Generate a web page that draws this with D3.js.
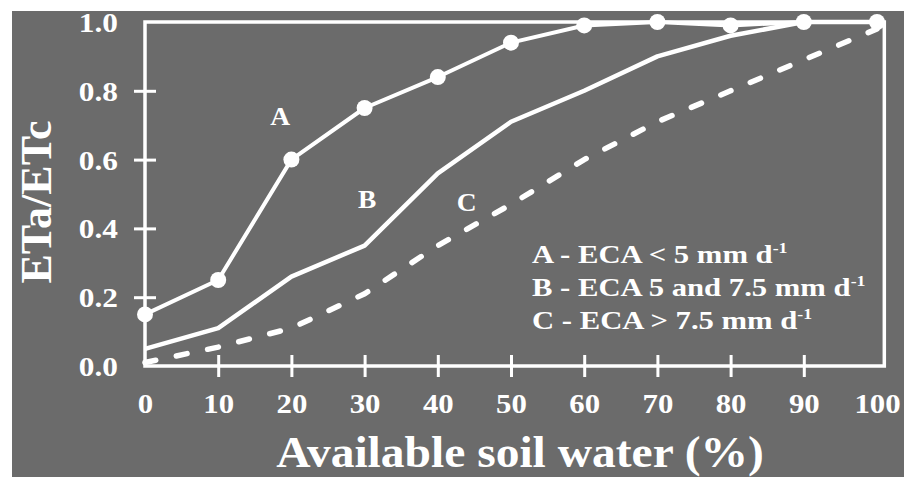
<!DOCTYPE html>
<html>
<head>
<meta charset="utf-8">
<script src="https://cdn.jsdelivr.net/npm/d3@7"></script>
<style>
  body { margin: 0; background: #fff; overflow: hidden; }
  svg { display: block; }
  svg text { font-family: "Liberation Serif", "Times New Roman", serif; font-weight: bold; fill: #fff; }
</style>
</head>
<body>
<svg id="chart"></svg>
<script>
const soilWater = [0, 10, 20, 30, 40, 50, 60, 70, 80, 90, 100];
const seriesA = [0.15, 0.25, 0.60, 0.75, 0.84, 0.94, 0.99, 1.00, 0.99, 1.00, 1.00];
const seriesB = [0.05, 0.11, 0.26, 0.35, 0.56, 0.71, 0.80, 0.90, 0.96, 1.00, 1.00];
const seriesC = [0.01, 0.055, 0.11, 0.21, 0.35, 0.47, 0.60, 0.71, 0.80, 0.89, 0.98];
const xTicks = [0, 10, 20, 30, 40, 50, 60, 70, 80, 90, 100];
const yTicks = [0.0, 0.2, 0.4, 0.6, 0.8, 1.0];
const legendLines = [
  {text: "A - ECA < 5 mm d", sup: "-1"},
  {text: "B - ECA 5 and 7.5 mm d", sup: "-1"},
  {text: "C - ECA > 7.5 mm d", sup: "-1"}
];
const curveLabels = [
  {name: "A", x: 17.1, y: 0.70},
  {name: "B", x: 29.1, y: 0.46},
  {name: "C", x: 42.6, y: 0.45}
];

const width = 904, height = 477;
const bg = "#6b6b6b";

const svg = d3.select("#chart")
  .attr("width", width)
  .attr("height", height);

svg.append("rect")
  .attr("x", 12)
  .attr("y", 11)
  .attr("width", width - 12)
  .attr("height", height - 11)
  .attr("fill", bg);

const x = d3.scaleLinear().domain([0, 100]).range([145, 877]);
const y = d3.scaleLinear().domain([0, 1]).range([366, 22]);

// frame
svg.append("rect")
  .attr("x", x(0))
  .attr("y", y(1))
  .attr("width", x(101) - x(0))
  .attr("height", y(0) - y(1))
  .attr("fill", "none")
  .attr("stroke", "#fff")
  .attr("stroke-width", 3.5);

const tickLen = 11;
const yPad = 16;

// the original type is a little wider than Times, so stretch it sideways
const yTickStretch = 1.16, xTickStretch = 1.1;

const yAxis = svg.append("g")
  .attr("transform", `translate(${x(0)},0)`)
  .call(d3.axisLeft(y).tickValues(yTicks).tickFormat(d3.format(".1f")).tickSize(tickLen).tickPadding(yPad));
yAxis.select(".domain").remove();
yAxis.selectAll(".tick line")
  .attr("x1", tickLen)
  .attr("stroke", "#fff")
  .attr("stroke-width", 3)
  .attr("opacity", d => (d === 0 || d === 1) ? 0 : 1);
yAxis.selectAll(".tick text")
  .attr("font-size", 27)
  .attr("dy", "0.35em")
  .attr("x", -(tickLen + yPad) / yTickStretch)
  .attr("transform", `scale(${yTickStretch},1)`);

const xAxis = svg.append("g")
  .attr("transform", `translate(0,${y(0)})`)
  .call(d3.axisBottom(x).tickValues(xTicks).tickFormat(d3.format("d")).tickSize(tickLen).tickPadding(16));
xAxis.select(".domain").remove();
xAxis.selectAll(".tick line")
  .attr("y1", -tickLen)
  .attr("stroke", "#fff")
  .attr("stroke-width", 3)
  .attr("opacity", d => (d === 0 || d === 100) ? 0 : 1);
xAxis.selectAll(".tick text")
  .attr("font-size", 28)
  .attr("dy", "0.71em")
  .attr("transform", `scale(${xTickStretch},1)`);

svg.selectAll(".tick text").style("fill", "#fff");

// axis titles
svg.append("text")
  .attr("transform", "translate(520,467) scale(1.08,1)")
  .attr("text-anchor", "middle")
  .attr("font-size", 44)
  .text("Available soil water (%)");

svg.append("text")
  .attr("transform", "translate(51,202) rotate(-90)")
  .attr("text-anchor", "middle")
  .attr("font-size", 44)
  .text("ETa/ETc");

const line = d3.line()
  .x((d, i) => x(soilWater[i]))
  .y(d => y(d));

svg.append("path")
  .datum(seriesC)
  .attr("fill", "none")
  .attr("stroke", "#fff")
  .attr("stroke-width", 5.5)
  .attr("stroke-linecap", "round")
  .attr("stroke-dasharray", "11,21")
  .attr("d", line);

svg.append("path")
  .datum(seriesB)
  .attr("fill", "none")
  .attr("stroke", "#fff")
  .attr("stroke-width", 4.5)
  .attr("stroke-linejoin", "round")
  .attr("d", line);

svg.append("path")
  .datum(seriesA)
  .attr("fill", "none")
  .attr("stroke", "#fff")
  .attr("stroke-width", 4)
  .attr("stroke-linejoin", "round")
  .attr("d", line);

svg.append("g")
  .selectAll("circle")
  .data(seriesA)
  .enter()
  .append("circle")
  .attr("cx", (d, i) => x(soilWater[i]))
  .attr("cy", d => y(d))
  .attr("r", 8)
  .attr("fill", "#fff");

// curve letters
svg.append("g")
  .selectAll("text")
  .data(curveLabels)
  .enter()
  .append("text")
  .attr("transform", d => `translate(${x(d.x)},${y(d.y)}) scale(1.1,1)`)
  .attr("font-size", 25)
  .text(d => d.name);

// legend
const legend = svg.append("g")
  .attr("transform", "translate(532,0) scale(1.18,1)")
  .selectAll("text")
  .data(legendLines)
  .enter()
  .append("text")
  .attr("x", 0)
  .attr("y", (d, i) => 263 + i * 33)
  .attr("font-size", 26);

legend.append("tspan").text(d => d.text);
legend.append("tspan")
  .attr("font-size", 15)
  .attr("dy", -10)
  .text(d => d.sup);
</script>
</body>
</html>
